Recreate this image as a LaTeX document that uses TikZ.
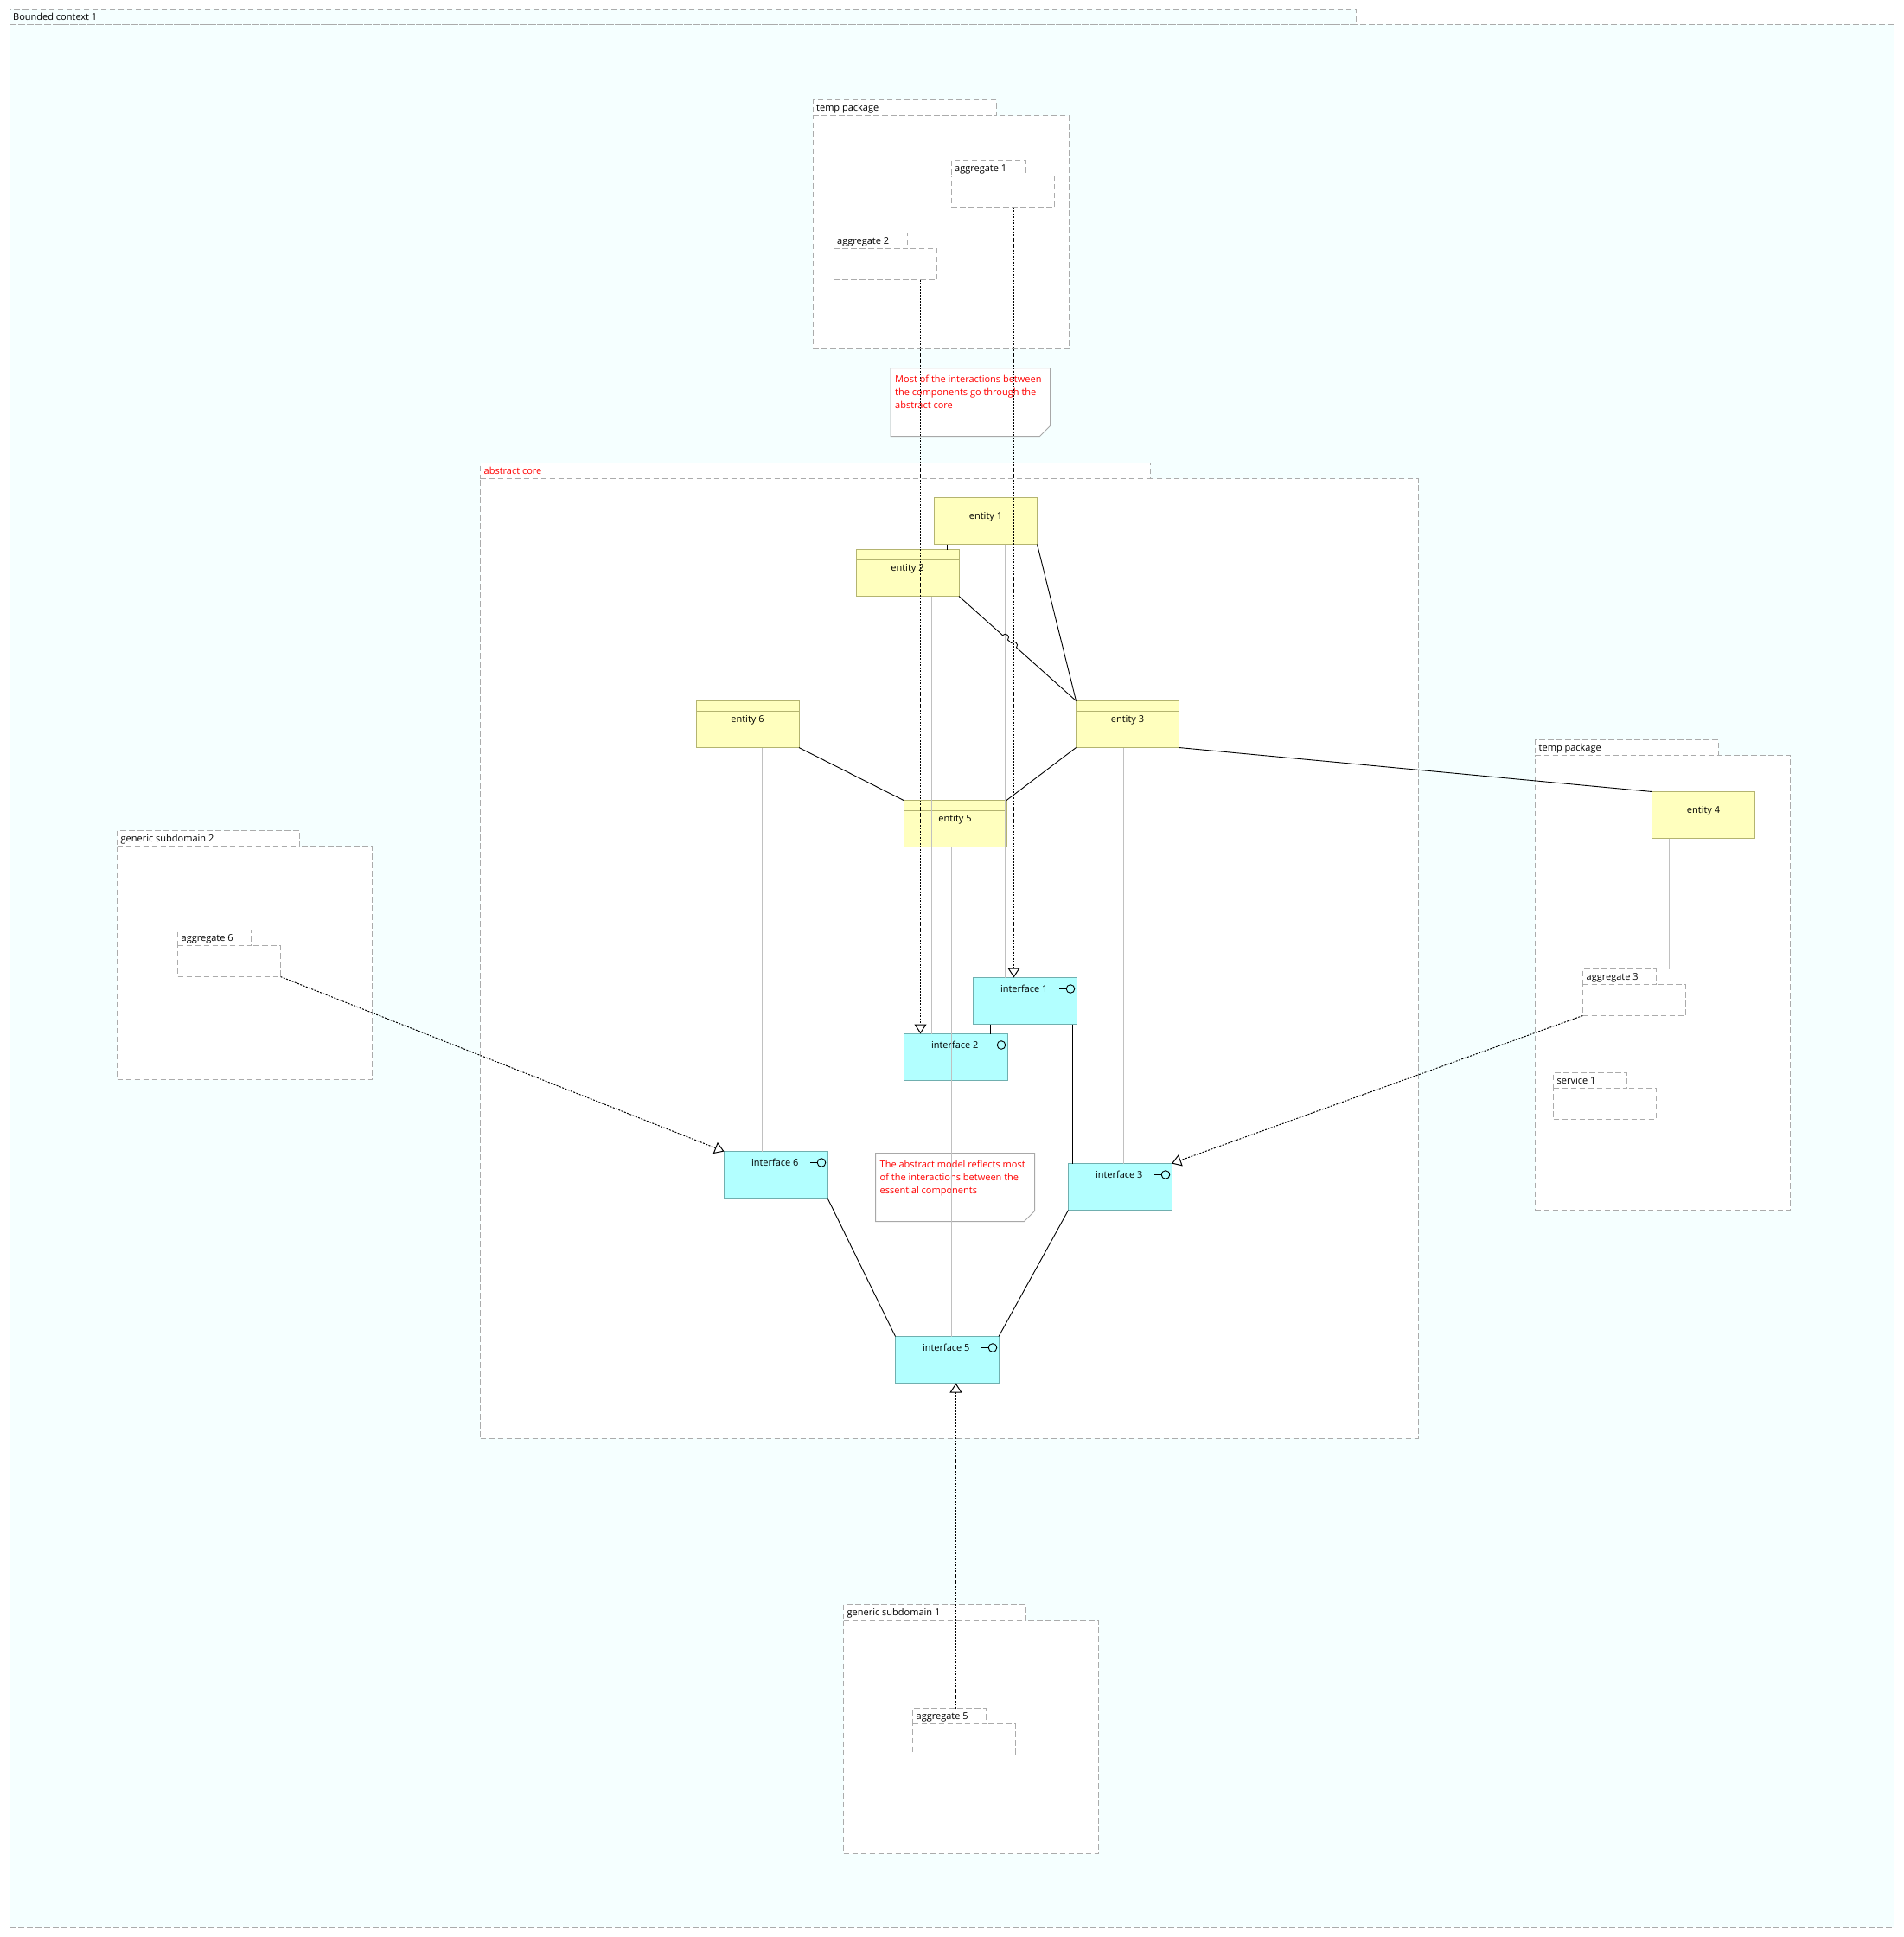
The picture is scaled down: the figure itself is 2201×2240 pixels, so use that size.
\documentclass[tikz,border=0pt]{standalone}
\usepackage{fontspec}
\setmainfont{Open Sans}
\usetikzlibrary{arrows.meta,calc}
\definecolor{bcfill}{HTML}{F5FFFF}
\definecolor{dgray}{HTML}{ABABAB}
\definecolor{entfill}{HTML}{FFFFBE}
\definecolor{entline}{HTML}{B4B470}
\definecolor{ifcfill}{HTML}{B2FFFF}
\definecolor{ifcline}{HTML}{70AFAF}
\definecolor{glinec}{HTML}{C0C0C0}
\definecolor{noteline}{HTML}{A8A8A8}
\definecolor{notered}{HTML}{FF0000}
\newcommand\dfont{\fontsize{11pt}{15pt}\selectfont}
% #1 name, #2 left, #3 tab top, #4 tab right, #5 right, #6 bottom, #7 label, #8 fill, #9 label colour
\newcommand\pkgdraw[9]{%
  \node[pkgbox,fill=#8,anchor=north west,minimum width={#5-#2},minimum height={#6-#3-18}] (#1) at (#2,#3+18) {};
  \node[pkgbox,fill=#8,anchor=south west,minimum width={#4-#2},minimum height=18] (#1-tab) at (#1.north west) {};
  \node[pkglabel,text=#9,anchor=west] (#1-lbl) at ($(#1-tab.west)+(4,1)$) {#7};
}
\tikzset{
  pkgbox/.style={draw=dgray, line width=1pt, dash pattern=on 6.5pt off 3.5pt, inner sep=0pt, outer sep=0pt},
  pkglabel/.style={font=\dfont, inner sep=0pt, text height=8pt, text depth=2.5pt},
  entity/.style={draw=entline, fill=entfill, line width=1pt, minimum width=119, minimum height=54,
    anchor=north west, inner sep=0pt, outer sep=0pt,
    path picture={\draw[entline, line width=1pt] ([yshift=-12pt]path picture bounding box.north west) -- ([yshift=-12pt]path picture bounding box.north east);}},
  ifc/.style={draw=ifcline, fill=ifcfill, line width=1pt, minimum width=119.5, minimum height=54,
    anchor=north west, inner sep=0pt, outer sep=0pt,
    path picture={\draw[black, line width=0.9pt] ($(path picture bounding box.north east)+(-20pt,-13pt)$) -- ++(8pt,0pt);
      \draw[black, line width=0.9pt] ($(path picture bounding box.north east)+(-7pt,-13pt)$) circle (4.8pt);}},
  etext/.style={font=\dfont, inner sep=0pt, text height=8pt, text depth=2.5pt},
  notebox/.style={draw=none, anchor=north west, inner sep=0pt, outer sep=0pt},
  noteshape/.style={draw=noteline, fill=white, line width=1pt},
  notetext/.style={font=\dfont, text=notered, align=left, inner sep=0pt, anchor=north west},
  bline/.style={draw=black, line width=0.9pt},
  gline/.style={draw=glinec, line width=1pt},
  real/.style={draw=black, line width=1pt, dash pattern=on 2pt off 1.5pt,
    -{Triangle[length=11pt, width=14pt, fill=white]}},
}
\begin{document}
\begin{tikzpicture}[x=1pt,y=-1pt]
\useasboundingbox (0,0) rectangle (2201,2240);

% Bounded context
\pkgdraw{bc}{11}{10.5}{1568}{2190}{2229}{Bounded context 1}{bcfill}{black}

% top temp package
\pkgdraw{tp1}{940}{115.5}{1152}{1236}{403.5}{temp package}{white}{black}
\pkgdraw{agg1}{1100}{185.5}{1186}{1219.5}{239.5}{aggregate 1}{white}{black}
\pkgdraw{agg2}{964}{269.5}{1049.5}{1083.5}{323.5}{aggregate 2}{white}{black}

% note 1
\node[notebox, minimum width=184.5, minimum height=79] (n1) at (1030,425.5) {};
\draw[noteshape] (n1.north west) -- (n1.north east) -- ($(n1.south east)+(0,-12)$) -- ($(n1.south east)+(-12,0)$) -- (n1.south west) -- cycle;
\node[notetext] (n1t) at ($(n1.north west)+(5,8)$) {Most of the interactions between\\the components go through the\\abstract core};

% abstract core
\pkgdraw{core}{555.5}{535.5}{1330}{1640}{1663}{abstract core}{white}{notered}

% note 2
\node[notebox, minimum width=184, minimum height=79] (n2) at (1012.5,1333.5) {};
\draw[noteshape] (n2.north west) -- (n2.north east) -- ($(n2.south east)+(0,-12)$) -- ($(n2.south east)+(-12,0)$) -- (n2.south west) -- cycle;
\node[notetext] (n2t) at ($(n2.north west)+(5,8)$) {The abstract model reflects most\\of the interactions between the\\essential components};

% right temp package
\pkgdraw{tp2}{1775.5}{855.5}{1987}{2070.5}{1399.5}{temp package}{white}{black}
\pkgdraw{agg3}{1830.5}{1120.5}{1915.5}{1949.5}{1174.5}{aggregate 3}{white}{black}
\pkgdraw{srv1}{1796.5}{1240.5}{1881.5}{1915.5}{1294}{service 1}{white}{black}

% generic subdomain 2
\pkgdraw{gs2}{135.5}{960.5}{346.5}{430.5}{1248.5}{generic subdomain 2}{white}{black}
\pkgdraw{agg6}{205.5}{1075.5}{290.5}{324.5}{1129.5}{aggregate 6}{white}{black}

% generic subdomain 1
\pkgdraw{gs1}{975.5}{1855.5}{1186.5}{1270.5}{2143.5}{generic subdomain 1}{white}{black}
\pkgdraw{agg5}{1055.5}{1975.5}{1140.5}{1174.5}{2029.5}{aggregate 5}{white}{black}

% entities
\node[entity] (e1) at (1080.5,575.5) {};
\node[etext] (e1t) at ([yshift=-22pt]e1.north) {entity 1};
\node[entity] (e2) at (990,635.5) {};
\node[etext] (e2t) at ([yshift=-22pt]e2.north) {entity 2};
\node[entity] (e6) at (805,810.5) {};
\node[etext] (e6t) at ([yshift=-22pt]e6.north) {entity 6};
\node[entity] (e3) at (1244.5,810.5) {};
\node[etext] (e3t) at ([yshift=-22pt]e3.north) {entity 3};
\node[entity] (e5) at (1045,925.5) {};
\node[etext] (e5t) at ([yshift=-22pt]e5.north) {entity 5};
\node[entity] (e4) at (1910.5,915.5) {};
\node[etext] (e4t) at ([yshift=-22pt]e4.north) {entity 4};

% interfaces
\node[ifc] (i1) at (1125.5,1130.5) {};
\node[etext] (i1t) at ([xshift=-1pt,yshift=-14pt]i1.north) {interface 1};
\node[ifc] (i2) at (1045.5,1195.5) {};
\node[etext] (i2t) at ([xshift=-1pt,yshift=-14pt]i2.north) {interface 2};
\node[ifc] (i6) at (837.5,1331.5) {};
\node[etext] (i6t) at ([xshift=-1pt,yshift=-14pt]i6.north) {interface 6};
\node[ifc] (i3) at (1235.5,1345.5) {};
\node[etext] (i3t) at ([xshift=-1pt,yshift=-14pt]i3.north) {interface 3};
\node[ifc] (i5) at (1035.5,1545.5) {};
\node[etext] (i5t) at ([xshift=-1pt,yshift=-14pt]i5.north) {interface 5};

% gray connectors
\draw[gline] ($(e6.south west)+(76.5,0)$) -- ($(i6.north west)+(44,0)$);
\draw[gline] ($(e2.south west)+(87.5,0)$) -- ($(i2.north west)+(32,0)$);
\draw[gline] ($(e5.south west)+(55.5,0)$) -- ($(i5.north west)+(65,0)$);
\draw[gline] ($(e1.south west)+(82,0)$) -- ($(i1.north west)+(37,0)$);
\draw[gline] ($(e3.south west)+(55,0)$) -- ($(i3.north west)+(64,0)$);
\draw[gline] ($(e4.south west)+(20,0)$) -- ($(agg3-tab.north west)+(100,0)$);

% black connectors
\draw[bline] ($(e1.south west)+(14.5,0)$) -- ($(e2.north west)+(105,0)$);
\draw[bline] (e1.south east) -- (e3.north west);
\draw[bline] (e2.south east) -- (1159.52,734.64) .. controls (1163.07,730.66) and (1169.03,735.98) .. (1165.48,739.96)
  -- (1169.52,743.54) .. controls (1173.07,739.56) and (1179.03,744.88) .. (1175.48,748.86) -- (e3.north west);
\draw[bline] (e6.south east) -- (e5.north west);
\draw[bline] (e3.south west) -- (e5.north east);
\draw[bline] (e3.south east) -- (e4.north west);
\draw[bline] ($(i1.south west)+(20,0)$) -- ($(i2.north west)+(100,0)$);
\draw[bline] ($(i1.south west)+(115,0)$) -- ($(i3.north west)+(5,0)$);
\draw[bline] (i6.south east) -- (i5.north west);
\draw[bline] (i3.south west) -- (i5.north east);
\draw[bline] ($(agg3.south west)+(43,0)$) -- ($(srv1-tab.north west)+(77,0)$);

% realizations
\draw[real] ($(agg2.south west)+(100.5,0)$) -- ($(i2.north west)+(19,0)$);
\draw[real] ($(agg1.south west)+(72.5,0)$) -- ($(i1.north west)+(47,0)$);
\draw[real] ($(agg5-tab.north west)+(50,0)$) -- ($(i5.south west)+(70,0)$);
\draw[real] (agg6.south east) -- (i6.north west);
\draw[real] (agg3.south west) -- (i3.north east);
\end{tikzpicture}
\end{document}
